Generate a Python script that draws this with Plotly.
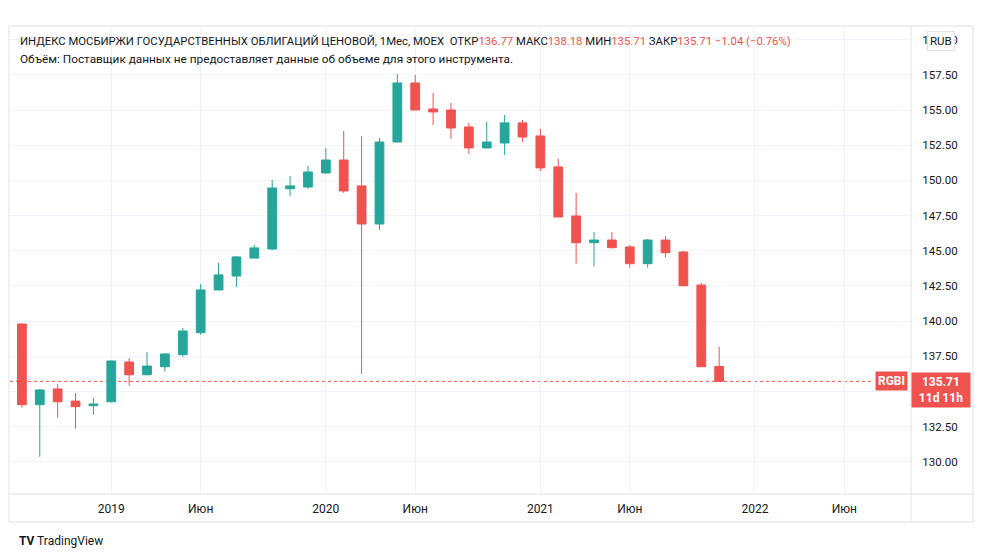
import plotly.graph_objects as go

# ---------------- data ----------------
months = [
    "2018-08", "2018-09", "2018-10", "2018-11", "2018-12",
    "2019-01", "2019-02", "2019-03", "2019-04", "2019-05", "2019-06",
    "2019-07", "2019-08", "2019-09", "2019-10", "2019-11", "2019-12",
    "2020-01", "2020-02", "2020-03", "2020-04", "2020-05", "2020-06",
    "2020-07", "2020-08", "2020-09", "2020-10", "2020-11", "2020-12",
    "2021-01", "2021-02", "2021-03", "2021-04", "2021-05", "2021-06",
    "2021-07", "2021-08", "2021-09", "2021-10", "2021-11",
]
open_ = [139.79, 134.05, 135.17, 134.31, 133.98,
         134.26, 137.09, 136.18, 136.75, 137.61, 139.17,
         142.21, 143.20, 144.48, 145.12, 149.41, 149.53,
         150.53, 151.45, 149.61, 146.90, 152.73, 156.93,
         155.08, 155.01, 153.80, 152.31, 152.66, 154.09,
         153.16, 150.96, 147.47, 145.57, 145.76, 145.27,
         144.08, 145.76, 144.91, 142.56, 136.77]
high = [139.86, 135.17, 135.52, 134.88, 134.53,
        137.18, 137.37, 137.80, 137.70, 139.51, 142.64,
        144.13, 144.60, 145.41, 150.03, 150.32, 151.03,
        152.31, 153.52, 153.16, 153.02, 157.57, 157.50,
        156.22, 155.51, 154.09, 154.16, 154.66, 154.30,
        153.66, 151.53, 149.11, 146.33, 146.33, 145.41,
        145.84, 146.05, 144.98, 142.71, 138.18]
low = [133.84, 130.35, 133.13, 132.34, 133.34,
       134.20, 135.40, 136.15, 136.40, 137.46, 139.03,
       142.18, 142.42, 144.45, 145.05, 148.89, 149.39,
       150.50, 149.11, 136.23, 146.48, 152.70, 155.00,
       153.94, 152.95, 151.88, 152.28, 151.81, 152.73,
       150.67, 147.38, 144.08, 143.87, 145.15, 143.79,
       143.79, 144.51, 142.49, 136.73, 135.71]
close = [134.05, 135.10, 134.26, 133.91, 134.10,
         137.16, 136.18, 136.80, 137.66, 139.29, 142.21,
         143.28, 144.56, 145.20, 149.46, 149.61, 150.60,
         151.45, 149.25, 146.90, 152.73, 156.93, 155.01,
         154.87, 153.73, 152.31, 152.73, 154.09, 153.09,
         150.89, 147.40, 145.57, 145.76, 145.22, 144.08,
         145.76, 144.86, 142.51, 136.75, 135.71]

tick_months = ["2019-01", "2019-06", "2020-01", "2020-06",
               "2021-01", "2021-06", "2022-01", "2022-06"]
tick_labels = ["2019", "Июн", "2020", "Июн", "2021", "Июн", "2022", "Июн"]

price_ticks = [130.0, 132.5, 135.0, 137.5, 140.0, 142.5, 145.0, 147.5,
               150.0, 152.5, 155.0, 157.5, 160.0]
# 135.00 sits under the last-price badge, so its label is not shown
price_tick_labels = ["130.00", "132.50", "", "137.50", "140.00", "142.50", "145.00",
                     "147.50", "150.00", "152.50", "155.00", "157.50", "160.00"]

symbol = "RGBI"
title = "ИНДЕКС МОСБИРЖИ ГОСУДАРСТВЕННЫХ ОБЛИГАЦИЙ ЦЕНОВОЙ, 1Мес, MOEX"
volume_note = "Объём: Поставщик данных не предоставляет данные об объеме для этого инструмента."
time_left = "11d 11h"
currency = "RUB"

# ---------------- helpers ----------------
def month_index(m):
    y0, m0 = map(int, months[0].split("-"))
    y, mm = map(int, m.split("-"))
    return (y - y0) * 12 + (mm - m0)

x = [month_index(m) for m in months]
tickvals = [month_index(m) for m in tick_months]

UP = "#26a69a"
DOWN = "#ef5350"
TXT = "#131722"
GRID = "#f0f3fa"
BORDER = "#e0e3eb"
FONT = "Roboto, 'Noto Sans', sans-serif"

OFF = 8                      # page body margin of the browser
W, H = 984 - OFF, 558 - OFF  # figure size
L, R, T, B = 10, 911, 27, 494  # plot area in page px


def px(xp):
    return (xp - L) / (R - L)


def py(yp):
    return (B - yp) / (B - T)


fig = go.Figure()
fig.add_trace(go.Candlestick(
    x=x, open=open_, high=high, low=low, close=close,
    increasing=dict(line=dict(color=UP, width=1), fillcolor=UP),
    decreasing=dict(line=dict(color=DOWN, width=1), fillcolor=DOWN),
    whiskerwidth=0, hoverinfo="skip", showlegend=False,
))

last_o, last_h, last_l, last_c = open_[-1], high[-1], low[-1], close[-1]
chg = last_c - close[-2]
pct = chg / close[-2] * 100


def red(v):
    return f'<span style="color:{DOWN}">{v}</span>'


def fmt_signed(v):
    return ("−" if v < 0 else "+") + f"{abs(v):.2f}"


header = (f"{title}  ОТКР{red(f'{last_o:.2f}')} МАКС{red(f'{last_h:.2f}')} "
          f"МИН{red(f'{last_l:.2f}')} ЗАКР{red(f'{last_c:.2f}')} "
          f"{red(fmt_signed(chg) + ' (' + fmt_signed(pct) + '%)')}")

annotations = [
    dict(xref="paper", yref="paper", x=px(18), y=py(41), xanchor="left", yanchor="middle",
         text=header, showarrow=False, font=dict(size=11.3, color=TXT, family=FONT)),
    dict(xref="paper", yref="paper", x=px(18), y=py(59), xanchor="left", yanchor="middle",
         text=volume_note, showarrow=False, font=dict(size=11.8, color=TXT, family=FONT)),
    dict(xref="paper", yref="y", x=px(908), y=last_c, xanchor="right", yanchor="middle",
         text=f"<b>{symbol}</b>", showarrow=False, bgcolor=DOWN, borderpad=2,
         font=dict(size=12, color="white", family=FONT)),
    dict(xref="paper", yref="y", x=px(911), y=last_c, xanchor="left", yanchor="top",
         yshift=9, text=f"<b>{last_c:.2f}</b><br><b>{time_left}</b>", showarrow=False,
         bgcolor=DOWN, borderpad=2, align="center", width=54,
         font=dict(size=12, color="white", family=FONT)),
    dict(xref="paper", yref="paper", x=px(941), y=py(41), xanchor="center", yanchor="middle",
         text=currency, showarrow=False, bgcolor="white", bordercolor=BORDER, borderwidth=1,
         borderpad=2, font=dict(size=11.5, color=TXT, family=FONT)),
    dict(xref="paper", yref="paper", x=px(17), y=py(541), xanchor="left", yanchor="middle",
         text="<b>TV</b> TradingView", showarrow=False,
         font=dict(size=12, color=TXT, family=FONT)),
]

shapes = [
    dict(type="rect", xref="paper", yref="paper", x0=px(9), x1=px(973), y0=py(522), y1=py(26),
         line=dict(color=BORDER, width=1), layer="above"),
    dict(type="line", xref="paper", yref="paper", x0=1, x1=1, y0=py(522), y1=py(26),
         line=dict(color=BORDER, width=1), layer="above"),
    dict(type="line", xref="paper", yref="paper", x0=px(9), x1=px(973), y0=0, y1=0,
         line=dict(color=BORDER, width=1), layer="above"),
    dict(type="line", xref="paper", yref="y", x0=0, x1=px(872), y0=last_c, y1=last_c,
         line=dict(color=DOWN, width=1, dash="dot"), layer="below"),
]

fig.update_layout(
    width=W, height=H,
    margin=dict(l=L - OFF, r=984 - R, t=T - OFF, b=558 - B, pad=0),
    paper_bgcolor="white", plot_bgcolor="white",
    font=dict(family=FONT, color=TXT, size=12),
    showlegend=False,
    boxgap=0.3,
    annotations=annotations,
    shapes=shapes,
    xaxis=dict(
        range=[-0.665, 49.73], rangeslider=dict(visible=False),
        tickvals=tickvals, ticktext=tick_labels,
        showgrid=True, gridcolor=GRID, gridwidth=1, zeroline=False, showline=False,
        ticks="outside", ticklen=4, tickcolor="rgba(0,0,0,0)",
        tickfont=dict(size=12, color=TXT, family=FONT), fixedrange=True,
    ),
    yaxis=dict(
        side="right", range=[127.70, 160.91],
        tickvals=price_ticks, ticktext=price_tick_labels,
        showgrid=True, gridcolor=GRID, gridwidth=1, zeroline=False, showline=False,
        ticks="outside", ticklen=8, tickcolor="rgba(0,0,0,0)",
        tickfont=dict(size=11.5, color=TXT, family=FONT), fixedrange=True,
    ),
)

fig.write_html("out.html")
